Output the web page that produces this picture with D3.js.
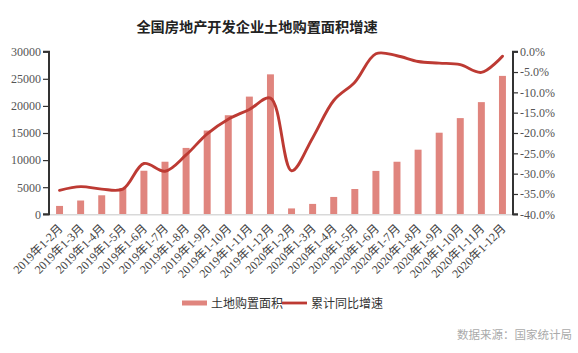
<!DOCTYPE html>
<html><head><meta charset="utf-8">
<script src="https://cdn.jsdelivr.net/npm/d3@7"></script>
<style>
html,body{margin:0;padding:0;background:#fff;}
svg{display:block;}
</style></head>
<body><svg id="c" width="578" height="353"></svg>
<script>
const categories = ["2019年1-2月","2019年1-3月","2019年1-4月","2019年1-5月","2019年1-6月","2019年1-7月","2019年1-8月","2019年1-9月","2019年1-10月","2019年1-11月","2019年1-12月",
"2020年1-2月","2020年1-3月","2020年1-4月","2020年1-5月","2020年1-6月","2020年1-7月","2020年1-8月","2020年1-9月","2020年1-10月","2020年1-11月","2020年1-12月"];
const landArea = [1545,2543,3509,4835,8035,9701,12247,15454,18279,21715,25822,1086,1917,3202,4667,8006,9697,11922,15053,17748,20696,25536];
const growth = [-34.1,-33.2,-33.8,-33.8,-27.5,-29.4,-25.4,-20.2,-16.6,-14.2,-11.4,-29.3,-21.2,-12.0,-7.5,-0.5,-1.0,-2.4,-2.8,-3.2,-5.1,-1.1];
const leftTicks = [0,5000,10000,15000,20000,25000,30000];
const rightTicks = [0,-5,-10,-15,-20,-25,-30,-35,-40];
const title = "全国房地产开发企业土地购置面积增速";
const seriesNames = ["土地购置面积","累计同比增速"];
const source = "数据来源：国家统计局";

const svg = d3.select("#c");
const m = {l:49, r:513, t:51.7, b:214.3};
const x = d3.scaleBand().domain(categories).range([m.l, m.r]).paddingInner(0.67).paddingOuter(0.335);
const yL = d3.scaleLinear().domain([0,30000]).range([m.b, m.t]);
const yR = d3.scaleLinear().domain([-40,0]).range([m.b, m.t]);
const barColor = "#e0857e", lineColor = "#bd3a33";
const numFont = "'Liberation Serif', 'Noto Sans CJK SC', serif";
const cjkFont = "'Noto Sans CJK SC', sans-serif";
const tickColor = "#555";

svg.append("text").attr("x",257).attr("y",32).attr("text-anchor","middle")
  .attr("font-family",cjkFont).attr("font-weight","bold").attr("font-size",14.2).attr("fill","#222").text(title);

// bars
svg.append("g").selectAll("rect").data(landArea).join("rect")
  .attr("x",(d,i)=>x(categories[i])).attr("width",x.bandwidth())
  .attr("y",d=>yL(d)).attr("height",d=>yL(0)-yL(d)).attr("fill",barColor);

// bottom axis line
svg.append("line").attr("x1",m.l).attr("x2",m.r).attr("y1",m.b+0.5).attr("y2",m.b+0.5)
  .attr("stroke","#d9d9d9").attr("stroke-width",1.5);

// left axis
const gl = svg.append("g").attr("transform",`translate(${m.l},0)`).style("color",tickColor)
  .call(d3.axisLeft(yL).tickValues(leftTicks).tickSize(6).tickPadding(2).tickFormat(d3.format("d")));
gl.select(".domain").attr("stroke","#333").attr("stroke-width",2).attr("d",`M-6,${m.t}H0V${m.b}H-6`);
gl.selectAll(".tick line").attr("stroke","#333").attr("stroke-width",1.2);
gl.selectAll(".tick text").attr("font-family",numFont).attr("font-size",12).attr("fill",tickColor);

// right axis
const gr = svg.append("g").attr("transform",`translate(${m.r},0)`).style("color",tickColor)
  .call(d3.axisRight(yR).tickValues(rightTicks).tickSize(5).tickPadding(2).tickFormat(d=>d3.format(".1f")(d).replace("−","-")+"%"));
gr.select(".domain").attr("stroke","#333").attr("stroke-width",2).attr("d",`M5,${m.t}H0V${m.b}H5`);
gr.selectAll(".tick line").attr("stroke","#333").attr("stroke-width",1.2);
gr.selectAll(".tick text").attr("font-family",numFont).attr("font-size",12).attr("fill",tickColor);

// x labels
svg.append("g").selectAll("text").data(categories).join("text")
  .attr("transform",d=>`translate(${x(d)+x.bandwidth()/2+4},${m.b+15}) rotate(-45)`)
  .attr("text-anchor","end").attr("font-family",numFont).attr("font-size",12).attr("fill","#444").text(d=>d);

// line
const line = d3.line().x((d,i)=>x(categories[i])+x.bandwidth()/2).y(d=>yR(d)).curve(d3.curveCatmullRom.alpha(0.5));
svg.append("path").datum(growth).attr("d",line).attr("fill","none")
  .attr("stroke",lineColor).attr("stroke-width",2.9).attr("stroke-linecap","round");

// legend
const ly = 303;
svg.append("rect").attr("x",182).attr("y",ly-2.5).attr("width",25).attr("height",5).attr("fill",barColor);
svg.append("text").attr("x",211).attr("y",ly+4.5).attr("font-family",cjkFont).attr("font-size",12).attr("fill","#333").text(seriesNames[0]);
svg.append("line").attr("x1",282).attr("x2",307).attr("y1",ly).attr("y2",ly).attr("stroke",lineColor).attr("stroke-width",2.8);
svg.append("text").attr("x",311).attr("y",ly+4.5).attr("font-family",cjkFont).attr("font-size",12).attr("fill","#333").text(seriesNames[1]);

svg.append("text").attr("x",572).attr("y",339).attr("text-anchor","end").attr("font-family",cjkFont)
  .attr("font-size",11.5).attr("fill","#aaa").text(source);
</script></body></html>
